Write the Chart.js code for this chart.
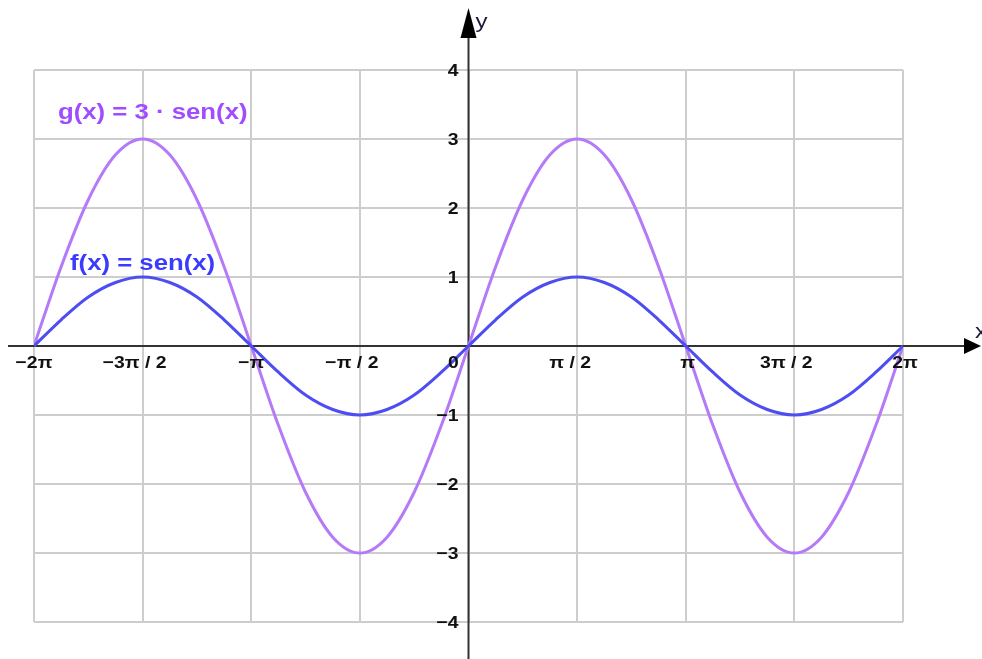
<!DOCTYPE html>
<html>
<head>
<meta charset="utf-8">
<script src="https://cdn.jsdelivr.net/npm/chart.js@4.4.0/dist/chart.umd.min.js"></script>
<style>
  html, body { margin: 0; padding: 0; background: #fff; }
  #wrap { width: 982px; height: 659px; }
</style>
</head>
<body>
<div id="wrap"><canvas id="sineChart" width="982" height="659"></canvas></div>
<script>
// x em múltiplos de π (passo π/8)
const xInPi = [-2, -1.875, -1.75, -1.625, -1.5, -1.375, -1.25, -1.125, -1, -0.875, -0.75, -0.625, -0.5, -0.375, -0.25, -0.125,
    0, 0.125, 0.25, 0.375, 0.5, 0.625, 0.75, 0.875, 1, 1.125, 1.25, 1.375, 1.5, 1.625, 1.75, 1.875, 2];

// f(x) = sen(x)
const fValues = [0, 0.38, 0.71, 0.92, 1, 0.92, 0.71, 0.38, 0, -0.38, -0.71, -0.92, -1, -0.92, -0.71, -0.38,
    0, 0.38, 0.71, 0.92, 1, 0.92, 0.71, 0.38, 0, -0.38, -0.71, -0.92, -1, -0.92, -0.71, -0.38, 0];

// g(x) = 3 · sen(x)
const gValues = [0, 1.15, 2.12, 2.77, 3, 2.77, 2.12, 1.15, 0, -1.15, -2.12, -2.77, -3, -2.77, -2.12, -1.15,
    0, 1.15, 2.12, 2.77, 3, 2.77, 2.12, 1.15, 0, -1.15, -2.12, -2.77, -3, -2.77, -2.12, -1.15, 0];

// rótulos dos eixos
const xTickInPi = [-2, -1.5, -1, -0.5, 0, 0.5, 1, 1.5, 2];
const xTickLabels = ['−2π', '−3π / 2', '−π', '−π / 2', '0', 'π / 2', 'π', '3π / 2', '2π'];
const yTicks = [-4, -3, -2, -1, 0, 1, 2, 3, 4];
const yTickLabels = ['−4', '−3', '−2', '−1', '', '1', '2', '3', '4'];

const fLabel = 'f(x) = sen(x)';
const gLabel = 'g(x) = 3 · sen(x)';

const FONT = '"Liberation Sans", Arial, sans-serif';

// ajustes finos dos rótulos do eixo x (px)
const xLabelNudge = { '−3π / 2': -8, '−π / 2': -8, '0': -15, 'π / 2': -7, 'π': 2, '3π / 2': -8, '2π': 2 };

// texto esticado na horizontal (o original é mais largo)
function wideText(ctx, txt, px, py, stretch) {
    ctx.save();
    ctx.translate(px, py);
    ctx.scale(stretch, 1);
    ctx.fillText(txt, 0, 0);
    ctx.restore();
}

// eixos com setas + rótulos
const axesPlugin = {
    id: 'axesArrows',
    beforeDatasetsDraw(chart) {
        const { ctx, scales: { x, y } } = chart;
        const x0 = x.getPixelForValue(0);
        const y0 = y.getPixelForValue(0);
        const W = chart.width, H = chart.height;
        ctx.save();
        ctx.strokeStyle = '#333';
        ctx.lineWidth = 2;
        ctx.beginPath();
        ctx.moveTo(8, y0);
        ctx.lineTo(W - 14, y0);
        ctx.moveTo(x0, H);
        ctx.lineTo(x0, 30);
        ctx.stroke();

        // setas
        ctx.fillStyle = '#000';
        ctx.beginPath();
        ctx.moveTo(W - 1, y0);
        ctx.lineTo(W - 18, y0 - 8);
        ctx.lineTo(W - 18, y0 + 8);
        ctx.closePath();
        ctx.fill();
        ctx.beginPath();
        ctx.moveTo(x0, 8);
        ctx.lineTo(x0 - 8, 38);
        ctx.lineTo(x0 + 8, 38);
        ctx.closePath();
        ctx.fill();
        ctx.restore();
    },
    afterDraw(chart) {
        const { ctx, scales: { x, y } } = chart;
        const y0 = y.getPixelForValue(0);
        const x0 = x.getPixelForValue(0);
        ctx.save();
        ctx.fillStyle = '#111';
        ctx.font = 'bold 17px ' + FONT;
        ctx.textBaseline = 'middle';

        // rótulos do eixo x
        ctx.textAlign = 'center';
        xTickInPi.forEach((v, i) => {
            const lbl = xTickLabels[i];
            const px = x.getPixelForValue(v * Math.PI) + (xLabelNudge[lbl] || 0);
            wideText(ctx, lbl, px, y0 + 17, 1.14);
        });

        // rótulos do eixo y
        ctx.textAlign = 'right';
        yTicks.forEach((v, i) => {
            wideText(ctx, yTickLabels[i], x0 - 10, y.getPixelForValue(v) + 1, 1.14);
        });

        // nomes dos eixos
        ctx.font = '20px ' + FONT;
        ctx.fillStyle = '#1a1a3a';
        ctx.textAlign = 'left';
        wideText(ctx, 'y', x0 + 7, 22, 1.2);
        wideText(ctx, 'x', chart.width - 7, y0 - 14, 1.2);

        // legendas das funções
        const left = x.getPixelForValue(-2 * Math.PI);
        ctx.font = 'bold 22px ' + FONT;
        ctx.fillStyle = '#a04cff';
        wideText(ctx, gLabel, left + 24, y.getPixelForValue(3) - 26, 1.17);
        ctx.fillStyle = '#3b3bff';
        wideText(ctx, fLabel, left + 36, y.getPixelForValue(1) - 13, 1.17);
        ctx.restore();
    }
};

const ctx = document.getElementById('sineChart').getContext('2d');
new Chart(ctx, {
    type: 'line',
    data: {
        datasets: [
            {
                label: fLabel,
                data: xInPi.map((v, i) => ({ x: v * Math.PI, y: fValues[i] })),
                borderColor: '#4d4df2',
                borderWidth: 3,
                pointRadius: 0,
                cubicInterpolationMode: 'monotone',
                order: 1
            },
            {
                label: gLabel,
                data: xInPi.map((v, i) => ({ x: v * Math.PI, y: gValues[i] })),
                borderColor: '#b57af7',
                borderWidth: 3,
                pointRadius: 0,
                cubicInterpolationMode: 'monotone',
                order: 2
            }
        ]
    },
    options: {
        responsive: false,
        animation: false,
        layout: { padding: { left: 34, right: 79, top: 70, bottom: 37 } },
        plugins: {
            legend: { display: false },
            tooltip: { enabled: false }
        },
        scales: {
            x: {
                type: 'linear',
                position: { y: 0 },
                min: -2 * Math.PI,
                max: 2 * Math.PI,
                afterBuildTicks: s => { s.ticks = xTickInPi.map(v => ({ value: v * Math.PI })); },
                afterFit: s => { s.height = 0; },
                grid: { color: '#cdcdcd', lineWidth: 2, drawTicks: false },
                border: { display: false },
                ticks: { display: false, autoSkip: false }
            },
            y: {
                type: 'linear',
                position: { x: 0 },
                min: -4,
                max: 4,
                afterBuildTicks: s => { s.ticks = yTicks.map(v => ({ value: v })); },
                afterFit: s => { s.width = 0; },
                grid: { color: '#cdcdcd', lineWidth: 2, drawTicks: false },
                border: { display: false },
                ticks: { display: false, autoSkip: false }
            }
        }
    },
    plugins: [axesPlugin]
});
</script>
</body>
</html>
